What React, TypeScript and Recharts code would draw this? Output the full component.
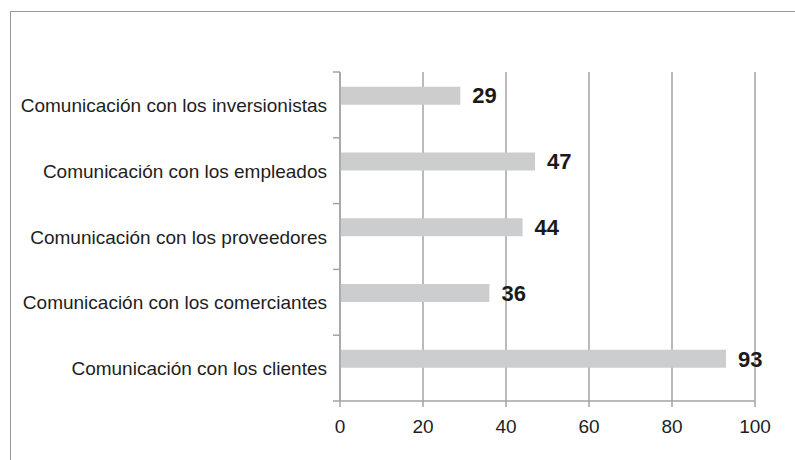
import { BarChart, Bar, XAxis, YAxis, CartesianGrid, LabelList } from 'recharts';

const categories = [
  'Comunicación con los inversionistas',
  'Comunicación con los empleados',
  'Comunicación con los proveedores',
  'Comunicación con los comerciantes',
  'Comunicación con los clientes',
];
const values = [29, 47, 44, 36, 93];
const xTicks = [0, 20, 40, 60, 80, 100];

const W = 795;
const H = 460;
const TOP = 72;
const PLOT_BOTTOM = 401;
const X_AXIS_H = 30;
const AXIS_GRAY = '#a3a3a3';
const FONT = '"Liberation Sans", Arial, sans-serif';

const chartData = categories.map((name, i) => ({
  name,
  value: values[i],
  empty: null as number | null,
}));

const band = (PLOT_BOTTOM - TOP) / categories.length;

// Excel style: tick marks sit between categories, not on them
function CategoryTick(props: any) {
  const { x, y, payload, index } = props;
  const last = index === categories.length - 1;
  return (
    <g>
      <line x1={x - 7} x2={x} y1={y - band / 2} y2={y - band / 2} stroke={AXIS_GRAY} strokeWidth={1.5} />
      {last && (
        <line x1={x - 7} x2={x} y1={y + band / 2} y2={y + band / 2} stroke={AXIS_GRAY} strokeWidth={1.5} />
      )}
      <text x={x - 13} y={y} dy={7} textAnchor="end" fill="#1e1e1e" fontSize={19} fontFamily={FONT}>
        {payload.value}
      </text>
    </g>
  );
}

export default function App() {
  return (
    <div style={{ position: 'absolute', left: 0, top: 0, width: W, height: H, background: '#fff' }}>
      <div
        style={{
          position: 'absolute',
          left: 10,
          top: 11,
          right: 0,
          bottom: 0,
          borderTop: '1.5px solid #9a9a9a',
          borderLeft: '1.5px solid #9a9a9a',
        }}
      />
      <BarChart
        width={W}
        height={H}
        data={chartData}
        layout="vertical"
        margin={{ top: TOP, right: 40, bottom: H - PLOT_BOTTOM - X_AXIS_H, left: 0 }}
        barCategoryGap="22.3%"
        barGap={0}
        style={{ position: 'absolute', left: 0, top: 0 }}
      >
        <CartesianGrid horizontal={false} stroke={AXIS_GRAY} strokeWidth={1.5} />
        <XAxis
          type="number"
          domain={[0, 100]}
          ticks={xTicks}
          height={X_AXIS_H}
          axisLine={{ stroke: AXIS_GRAY, strokeWidth: 1.5 }}
          tickLine={{ stroke: AXIS_GRAY, strokeWidth: 1.5 }}
          tickSize={6}
          tickMargin={13}
          tick={{ fill: '#1e1e1e', fontSize: 19, fontFamily: FONT }}
        />
        <YAxis
          type="category"
          dataKey="name"
          width={340}
          axisLine={{ stroke: AXIS_GRAY, strokeWidth: 1.5 }}
          tickLine={false}
          tickSize={0}
          tickMargin={0}
          interval={0}
          tick={<CategoryTick />}
        />
        <Bar dataKey="value" fill="#cccdce" isAnimationActive={false}>
          <LabelList
            dataKey="value"
            position="right"
            offset={12}
            fill="#1a1a1a"
            fontSize={22}
            fontWeight="bold"
            fontFamily={FONT}
          />
        </Bar>
        <Bar dataKey="empty" fill="#cccdce" isAnimationActive={false} />
      </BarChart>
    </div>
  );
}
